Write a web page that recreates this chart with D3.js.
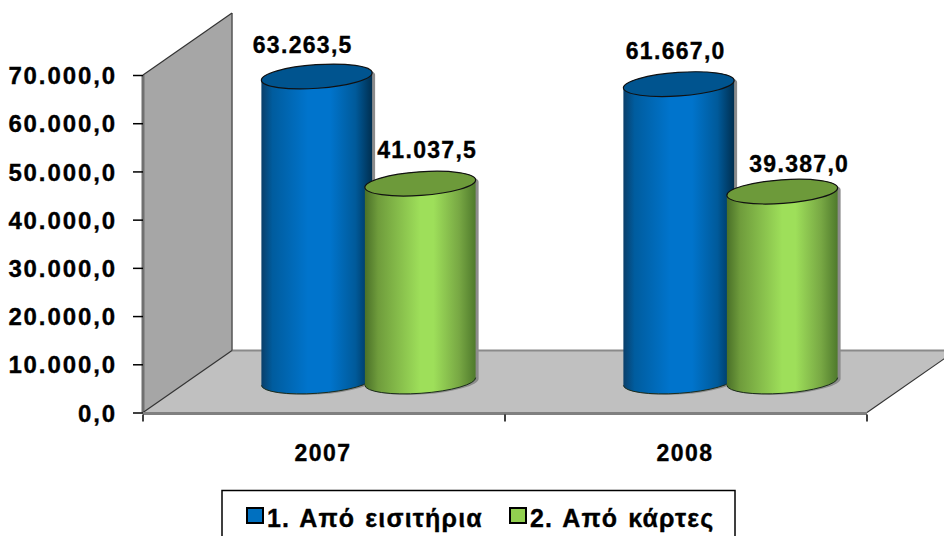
<!DOCTYPE html>
<html><head><meta charset="utf-8">
<script src="https://cdn.jsdelivr.net/npm/d3@7"></script>
<style>html,body{margin:0;padding:0;background:#fff;overflow:hidden}svg{display:block}
text{font-family:"Liberation Sans",Arial,sans-serif;font-weight:bold;fill:#000;stroke:#000;stroke-width:.35px}</style></head>
<body><svg id="c" width="944" height="536"></svg>
<script>
const categories = ["2007","2008"];
const seriesNames = ["1. Από εισιτήρια","2. Από κάρτες"];
const ticket = [63263.5,61667.0];
const cards = [41037.5,39387.0];
const tickValues = [0,10000,20000,30000,40000,50000,60000,70000];
const series = [ticket,cards];

const svg = d3.select("#c");
const loc = d3.formatLocale({decimal:",",thousands:".",grouping:[3],currency:["",""]});
const fmt = loc.format(",.1f");
const depth = {x:89,y:-62};
const x = d3.scaleBand().domain(categories).range([143,867]);
const y = d3.scaleLinear().domain([0,70000]).range([412.5,75]);
const sub = d3.scaleBand().domain([0,1]).range([-103.5,103.5]);
const rx = 55.5, ry = 11.8, tilt = 4*Math.PI/180;
// hand-placed data label nudges, by series then category
const labelNudge = [[[-14,-23.5],[-3,-25]],[[7,-25.5],[17,-20]]];

const defs = svg.append("defs");
const grads = [
 {id:"gb",stops:[[0,"#0a3f6a"],[.1,"#005c9e"],[.42,"#0074cc"],[.62,"#0074cc"],[.85,"#005a9a"],[1,"#002f50"]]},
 {id:"gg",stops:[[0,"#4a7028"],[.12,"#6f9c3c"],[.5,"#9edf5a"],[.62,"#9edf5a"],[.85,"#78a844"],[1,"#4f7a2c"]]}];
grads.forEach(g=>{const l=defs.append("linearGradient").attr("id",g.id);
  g.stops.forEach(s=>l.append("stop").attr("offset",s[0]).attr("stop-color",s[1]));});
const capFill=["#00548f","#6d9a3a"], legendFill=["#0070c0","#92d050"];

// walls and floor
const [x0,x1]=x.range(), y0=y(0), yt=y(70000);
const pts=a=>a.map(p=>p.join(",")).join(" ");
svg.append("polygon").attr("points",pts([[x0,y0],[x0+depth.x,y0+depth.y],[x1+depth.x,y0+depth.y],[x1,y0]])).attr("fill","#c0c0c0");
svg.append("line").attr("x1",x0+depth.x).attr("x2",944).attr("y1",y0+depth.y).attr("y2",y0+depth.y).attr("stroke","#8a8a8a").attr("stroke-width",2);
svg.append("polygon").attr("points",pts([[x0,y0],[x0,yt],[x0+depth.x,yt+depth.y],[x0+depth.x,y0+depth.y]])).attr("fill","#a6a6a6");
svg.append("line").attr("x1",x0).attr("x2",x0).attr("y1",yt).attr("y2",y0).attr("stroke","#707070").attr("stroke-width",3);
svg.append("line").attr("x1",x0+depth.x).attr("x2",x0+depth.x).attr("y1",yt+depth.y).attr("y2",y0+depth.y).attr("stroke","#555").attr("stroke-width",1.5);
[[x0,yt,x0+depth.x,yt+depth.y],[x0,y0,x0+depth.x,y0+depth.y],[x1,y0,x1+depth.x,y0+depth.y]].forEach(l=>
  svg.append("line").attr("x1",l[0]).attr("y1",l[1]).attr("x2",l[2]).attr("y2",l[3]).attr("stroke","#333").attr("stroke-width",1.2));
svg.append("line").attr("x1",x0).attr("x2",x1).attr("y1",y0+1).attr("y2",y0+1).attr("stroke","#808080").attr("stroke-width",3);

// axes
const ax=svg.append("g").attr("transform",`translate(${x0},0)`)
  .call(d3.axisLeft(y).tickValues(tickValues).tickFormat(fmt).tickSize(10).tickPadding(16));
ax.select(".domain").remove();
ax.selectAll("line").attr("stroke","#000").attr("stroke-width",1.5);
ax.selectAll("text").style("font-size","24px").style("letter-spacing","1.9px").attr("dy","0.36em");
const bx=svg.append("g").attr("transform",`translate(-1,${y0+2})`)
  .call(d3.axisBottom(x).tickSize(0).tickPadding(30));
bx.select(".domain").remove();
bx.selectAll("text").style("font-size","23px").style("letter-spacing","1.5px");
[x0,x0+x.step(),x1].forEach(v=>svg.append("line").attr("x1",v).attr("x2",v).attr("y1",y0+2).attr("y2",y0+9).attr("stroke","#000").attr("stroke-width",1.5));

// cylinders
const dx=rx*Math.cos(tilt), dy=rx*Math.sin(tilt), deg=-4;
function body(cx,top,bot){
  return `M${cx-dx},${top+dy}L${cx-dx},${bot+dy}A${rx},${ry} ${deg} 0 0 ${cx+dx},${bot-dy}L${cx+dx},${top-dy}A${rx},${ry} ${deg} 0 0 ${cx-dx},${top+dy}Z`;
}
categories.forEach((c,ci)=>{
  series.forEach((vals,si)=>{
    const cx=x(c)+x.bandwidth()/2+depth.x/2+sub(si)+sub.bandwidth()/2;
    const top=y(vals[ci])+depth.y/2, bot=y(0)+depth.y/2;
    const g=svg.append("g");
    g.append("path").attr("d",body(cx+3,top+2,bot+1)).attr("fill","#8c8c8c");
    g.append("path").attr("d",body(cx,top,bot)).attr("fill",`url(#${grads[si].id})`);
    g.append("path").attr("d",`M${cx-dx},${bot+dy}A${rx},${ry} ${deg} 0 0 ${cx+dx},${bot-dy}`).attr("fill","none").attr("stroke","#1c2c1c").attr("stroke-width",1);
    g.append("ellipse").attr("rx",rx).attr("ry",ry).attr("transform",`translate(${cx},${top}) rotate(${deg})`)
      .attr("fill",capFill[si]).attr("stroke","#111").attr("stroke-width",1.2);
    const n=labelNudge[si][ci];
    g.append("text").attr("x",cx+n[0]).attr("y",top+n[1]).attr("text-anchor","middle")
      .style("font-size","23px").style("letter-spacing","1.3px").text(fmt(vals[ci]));
  });
});

// legend
const lg=svg.append("g");
lg.append("rect").attr("x",222).attr("y",490.5).attr("width",513).attr("height",60).attr("fill","#fff").attr("stroke","#000").attr("stroke-width",1.5);
const lx=d3.scaleOrdinal().domain(seriesNames).range([247,510]);
seriesNames.forEach((n,i)=>{
  lg.append("rect").attr("x",lx(n)).attr("y",508).attr("width",16).attr("height",15).attr("fill",legendFill[i]).attr("stroke","#000").attr("stroke-width",2);
  lg.append("text").attr("x",lx(n)+20).attr("y",527).style("font-size","25px").style("letter-spacing","1.15px").style("word-spacing","2px").text(n);
});
</script></body></html>
